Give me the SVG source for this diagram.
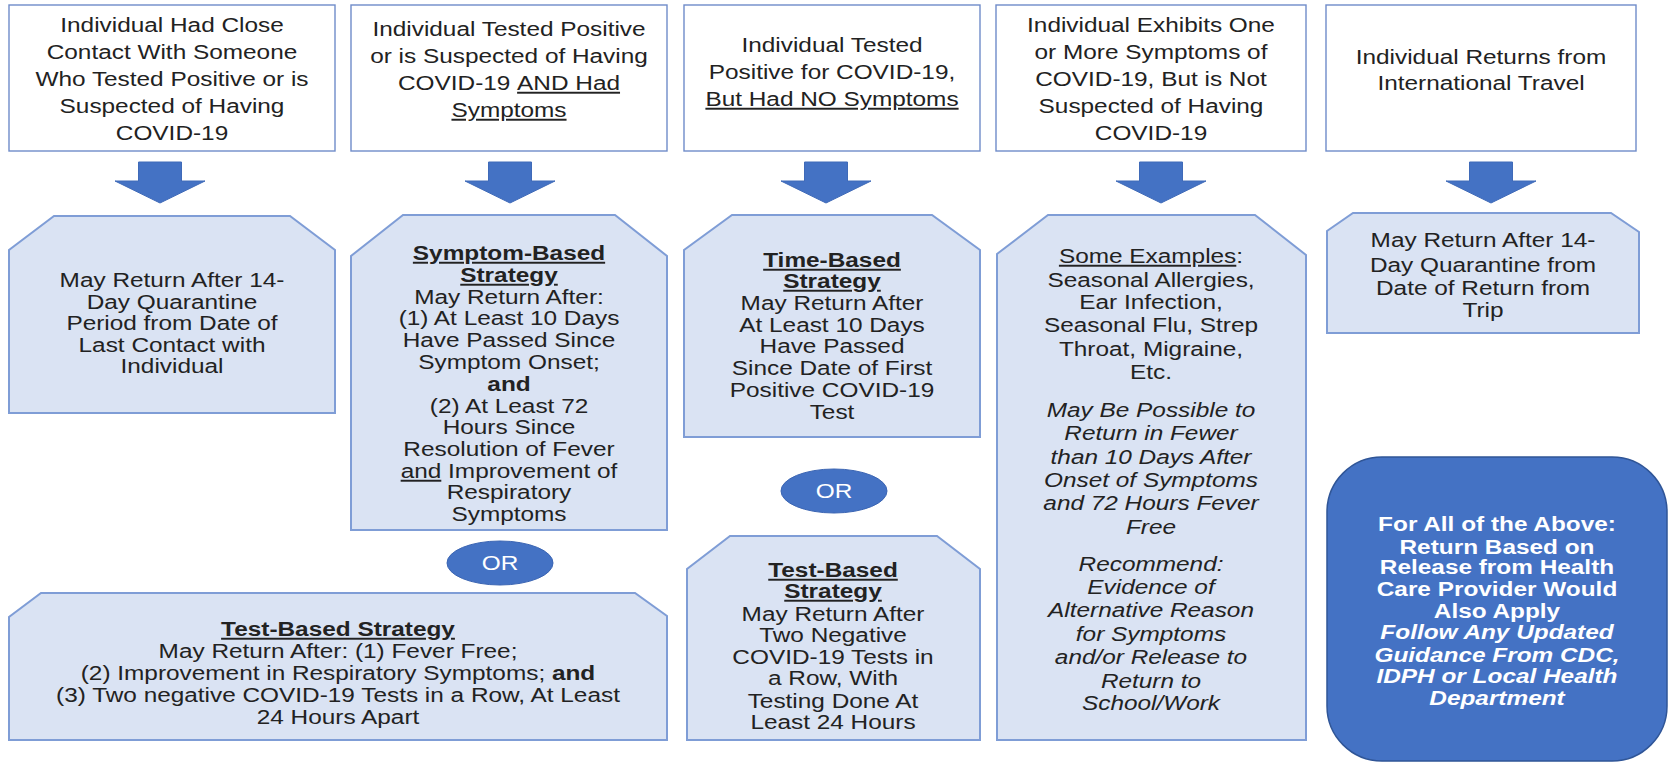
<svg xmlns="http://www.w3.org/2000/svg" width="1669" height="764" viewBox="0 0 1669 764">
<style>
text{font-family:"Liberation Sans",Arial,sans-serif;font-size:19.5px;fill:#222222;text-anchor:middle}
.top{fill:#ffffff;stroke:#6f8cc9;stroke-width:1.4}
.snip{fill:#dae3f3;stroke:#7f9dd6;stroke-width:2}
.arrow{fill:#4472c4;stroke:#3f6ab8;stroke-width:1}
.or{fill:#4472c4;stroke:#3b65b3;stroke-width:1}
.ortext{fill:#ffffff}
.b{font-weight:bold}
.u{text-decoration:underline}
.i{font-style:italic}
.big{fill:#4472c4;stroke:#2f5597;stroke-width:1.5}
.w{fill:#ffffff;font-weight:bold}
</style>

<g id="box1">
<rect class="top" x="9" y="5" width="326" height="146"/>
<g transform="matrix(1.25 0 0 1 172 0)">
<text y="32">Individual Had Close</text>
<text y="59">Contact With Someone</text>
<text y="86">Who Tested Positive or is</text>
<text y="113">Suspected of Having</text>
<text y="140">COVID-19</text>
</g>
</g>

<g id="box2">
<rect class="top" x="351" y="5" width="316" height="146"/>
<g transform="matrix(1.25 0 0 1 509 0)">
<text y="36">Individual Tested Positive</text>
<text y="63">or is Suspected of Having</text>
<text y="90">COVID-19 <tspan class="u">AND Had</tspan></text>
<text y="117"><tspan class="u">Symptoms</tspan></text>
</g>
</g>

<g id="box3">
<rect class="top" x="684" y="5" width="296" height="146"/>
<g transform="matrix(1.25 0 0 1 832 0)">
<text y="52">Individual Tested</text>
<text y="79">Positive for COVID-19,</text>
<text y="106"><tspan class="u">But Had NO Symptoms</tspan></text>
</g>
</g>

<g id="box4">
<rect class="top" x="996" y="5" width="310" height="146"/>
<g transform="matrix(1.25 0 0 1 1151 0)">
<text y="32">Individual Exhibits One</text>
<text y="59">or More Symptoms of</text>
<text y="86">COVID-19, But is Not</text>
<text y="113">Suspected of Having</text>
<text y="140">COVID-19</text>
</g>
</g>

<g id="box5">
<rect class="top" x="1326" y="5" width="310" height="146"/>
<g transform="matrix(1.25 0 0 1 1481 0)">
<text y="64">Individual Returns from</text>
<text y="90">International Travel</text>
</g>
</g>

<g id="connectors">
<path class="arrow" d="M138.5,162 H181.5 V181 H205 L160,203 L115,181 H138.5 Z"/>
<path class="arrow" d="M488.5,162 H531.5 V181 H555 L510,203 L465,181 H488.5 Z"/>
<path class="arrow" d="M804.5,162 H847.5 V181 H871 L826,203 L781,181 H804.5 Z"/>
<path class="arrow" d="M1139.5,162 H1182.5 V181 H1206 L1161,203 L1116,181 H1139.5 Z"/>
<path class="arrow" d="M1469.5,162 H1512.5 V181 H1536 L1491,203 L1446,181 H1469.5 Z"/>
</g>

<g id="result1">
<polygon class="snip" points="54,216 290,216 335,250 335,413 9,413 9,250"/>
<g transform="matrix(1.25 0 0 1 172 0)">
<text y="287">May Return After 14-</text>
<text y="309">Day Quarantine</text>
<text y="330">Period from Date of</text>
<text y="352">Last Contact with</text>
<text y="373">Individual</text>
</g>
</g>

<g id="result2">
<polygon class="snip" points="403,215 615,215 667,256 667,530 351,530 351,256"/>
<g transform="matrix(1.25 0 0 1 509 0)">
<text y="260" class="b"><tspan class="u">Symptom-Based</tspan></text>
<text y="282" class="b"><tspan class="u">Strategy</tspan></text>
<text y="304">May Return After:</text>
<text y="325">(1) At Least 10 Days</text>
<text y="347">Have Passed Since</text>
<text y="369">Symptom Onset;</text>
<text y="391" class="b">and</text>
<text y="413">(2) At Least 72</text>
<text y="434">Hours Since</text>
<text y="456">Resolution of Fever</text>
<text y="478"><tspan class="u">and</tspan> Improvement of</text>
<text y="499">Respiratory</text>
<text y="521">Symptoms</text>
</g>
</g>

<g id="or1">
<ellipse class="or" cx="500" cy="563" rx="53" ry="22"/>
<g transform="matrix(1.25 0 0 1 500 0)">
<text class="ortext" y="570">OR</text>
</g>
</g>

<g id="result2b">
<polygon class="snip" points="41,593 635,593 667,616 667,740 9,740 9,617"/>
<g transform="matrix(1.25 0 0 1 338 0)">
<text y="636" class="b"><tspan class="u">Test-Based Strategy</tspan></text>
<text y="658">May Return After: (1) Fever Free;</text>
<text y="680">(2) Improvement in Respiratory Symptoms; <tspan class="b">and</tspan></text>
<text y="702">(3) Two negative COVID-19 Tests in a Row, At Least</text>
<text y="724">24 Hours Apart</text>
</g>
</g>

<g id="result3">
<polygon class="snip" points="732,215 932,215 980,250 980,437 684,437 684,250"/>
<g transform="matrix(1.25 0 0 1 832 0)">
<text y="267" class="b"><tspan class="u">Time-Based</tspan></text>
<text y="288" class="b"><tspan class="u">Strategy</tspan></text>
<text y="310">May Return After</text>
<text y="332">At Least 10 Days</text>
<text y="353">Have Passed</text>
<text y="375">Since Date of First</text>
<text y="397">Positive COVID-19</text>
<text y="419">Test</text>
</g>
</g>

<g id="or2">
<ellipse class="or" cx="834" cy="491" rx="53" ry="22"/>
<g transform="matrix(1.25 0 0 1 834 0)">
<text class="ortext" y="498">OR</text>
</g>
</g>

<g id="result3b">
<polygon class="snip" points="730,536 937,536 980,569 980,740 687,740 687,569"/>
<g transform="matrix(1.25 0 0 1 833 0)">
<text y="577" class="b"><tspan class="u">Test-Based</tspan></text>
<text y="598" class="b"><tspan class="u">Strategy</tspan></text>
<text y="621">May Return After</text>
<text y="642">Two Negative</text>
<text y="664">COVID-19 Tests in</text>
<text y="685">a Row, With</text>
<text y="708">Testing Done At</text>
<text y="729">Least 24 Hours</text>
</g>
</g>

<g id="result4">
<polygon class="snip" points="1048,215 1255,215 1306,255 1306,740 997,740 997,254"/>
<g transform="matrix(1.25 0 0 1 1151 0)">
<text y="263"><tspan class="u">Some Examples</tspan>:</text>
<text y="287">Seasonal Allergies,</text>
<text y="309">Ear Infection,</text>
<text y="332">Seasonal Flu, Strep</text>
<text y="356">Throat, Migraine,</text>
<text y="379">Etc.</text>
<text y="417" class="i">May Be Possible to</text>
<text y="440" class="i">Return in Fewer</text>
<text y="464" class="i">than 10 Days After</text>
<text y="487" class="i">Onset of Symptoms</text>
<text y="510" class="i">and 72 Hours Fever</text>
<text y="534" class="i">Free</text>
<text y="571" class="i">Recommend:</text>
<text y="594" class="i">Evidence of</text>
<text y="617" class="i">Alternative Reason</text>
<text y="641" class="i">for Symptoms</text>
<text y="664" class="i">and/or Release to</text>
<text y="688" class="i">Return to</text>
<text y="710" class="i">School/Work</text>
</g>
</g>

<g id="result5">
<polygon class="snip" points="1353,213 1611,213 1639,232 1639,333 1327,333 1327,231"/>
<g transform="matrix(1.25 0 0 1 1483 0)">
<text y="247">May Return After 14-</text>
<text y="272">Day Quarantine from</text>
<text y="295">Date of Return from</text>
<text y="317">Trip</text>
</g>
</g>

<g id="note">
<rect class="big" x="1327" y="457" width="340" height="304" rx="55" ry="55"/>
<g transform="matrix(1.25 0 0 1 1497 0)">
<text class="w" y="531">For All of the Above:</text>
<text class="w" y="554">Return Based on</text>
<text class="w" y="574">Release from Health</text>
<text class="w" y="596">Care Provider Would</text>
<text class="w" y="618">Also Apply</text>
<text class="w i" y="639">Follow Any Updated</text>
<text class="w i" y="662">Guidance From CDC,</text>
<text class="w i" y="683">IDPH or Local Health</text>
<text class="w i" y="705">Department</text>
</g>
</g>
</svg>
